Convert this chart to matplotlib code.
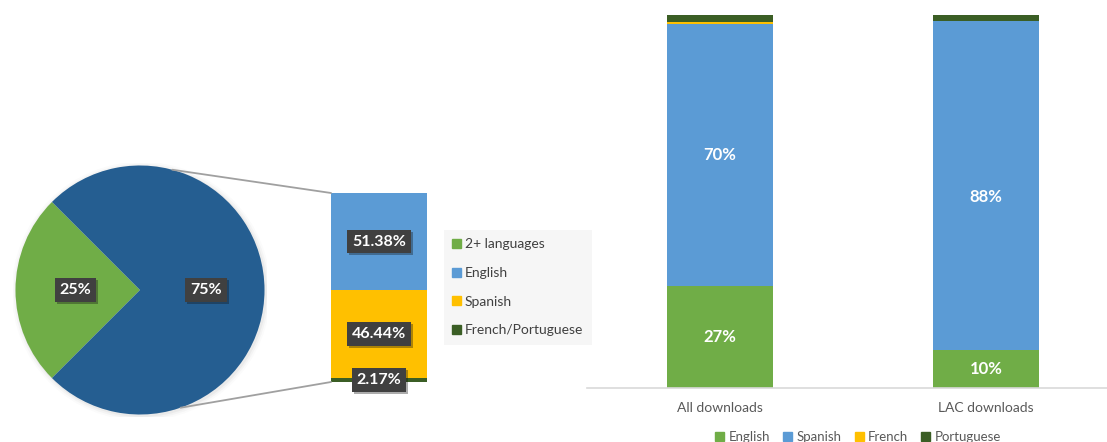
import matplotlib
matplotlib.use("Agg")
import matplotlib.pyplot as plt
from matplotlib.patches import ConnectionPatch, Patch
import matplotlib.patheffects as pe
import numpy as np

plt.rcParams['font.family'] = ['Lato', 'DejaVu Sans']

# pie: share of materials by number of languages
pie_labels = ["2+ languages", "Single language"]
pie_values = [25, 75]
pie_text = ["25%", "75%"]

# bar of pie: breakdown of single-language materials (bottom to top)
sub_labels = ["French/Portuguese", "Spanish", "English"]
sub_values = [2.17, 46.44, 51.38]

# downloads by language
categories = ["All downloads", "LAC downloads"]
dl_series = ["English", "Spanish", "French", "Portuguese"]
dl_english = [27.4, 10.2]
dl_spanish = [70.3, 88.2]
dl_french = [0.5, 0.1]
dl_portuguese = [1.8, 1.5]

C_GREEN = "#70AD47"
C_DBLUE = "#255E91"
C_BLUE = "#5B9BD5"
C_YELLOW = "#FFC000"
C_DGREEN = "#3B5E25"

W, H = 1107, 442
fig = plt.figure(figsize=(W / 100, H / 100), dpi=100)


def px_axes(x0, y0, x1, y1):
    # pixel box (top-left origin) -> figure axes
    return fig.add_axes([x0 / W, 1 - y1 / H, (x1 - x0) / W, (y1 - y0) / H])


def dark_label(ax, x, y, s, size=11.5):
    t = ax.text(x, y, s, ha="center", va="center", color="white",
                fontsize=size, fontweight="bold",
                bbox=dict(boxstyle="square,pad=0.3", fc="#404040", ec="none"),
                zorder=5)
    t.get_bbox_patch().set_path_effects(
        [pe.SimplePatchShadow(offset=(1.5, -1.5), alpha=0.35), pe.Normal()])
    return t


# ---- pie ----
ax_pie = px_axes(13, 163, 267, 417)
# soft shadow behind the pie
for r, a in [(1.04, 0.03), (1.025, 0.05), (1.01, 0.08)]:
    ax_pie.add_patch(plt.Circle((0.01, -0.01), r, color="#808080", alpha=a, lw=0))
wedges, _ = ax_pie.pie(pie_values, colors=[C_GREEN, C_DBLUE], startangle=135,
                       radius=1, wedgeprops=dict(linewidth=0))
ax_pie.set_xlim(-1.02, 1.02)
ax_pie.set_ylim(-1.02, 1.02)
ax_pie.set_aspect("equal")
ax_pie.axis("off")
dark_label(ax_pie, -0.52, 0.0, pie_text[0])
dark_label(ax_pie, 0.53, 0.0, pie_text[1])

# ---- bar of pie ----
ax_sub = px_axes(331, 193, 427, 382)
bottom = 0
sub_colors = [C_DGREEN, C_YELLOW, C_BLUE]
sub_y = []
for v, c in zip(sub_values, sub_colors):
    ax_sub.bar(0.5, v, width=1, bottom=bottom, color=c, linewidth=0)
    sub_y.append(bottom + v / 2)
    bottom += v
ax_sub.set_xlim(0, 1)
ax_sub.set_ylim(0, sum(sub_values))
ax_sub.axis("off")
for yv, v in zip(sub_y, sub_values):
    dark_label(ax_sub, 0.5, yv, f"{v:.2f}%")

for ang, yb in [(75, sum(sub_values)), (-71, 0)]:
    a = np.deg2rad(ang)
    con = ConnectionPatch(xyA=(np.cos(a), np.sin(a)), coordsA=ax_pie.transData,
                          xyB=(0, yb), coordsB=ax_sub.transData,
                          color="#A0A0A0", lw=1.3, zorder=1)
    fig.add_artist(con)

pie_handles = [Patch(color=C_GREEN), Patch(color=C_BLUE),
               Patch(color=C_YELLOW), Patch(color=C_DGREEN)]
fig.legend(pie_handles, ["2+ languages", "English", "Spanish", "French/Portuguese"],
           loc="upper left", bbox_to_anchor=(444 / W, 1 - 230 / H),
           frameon=True, fancybox=False, facecolor="#F4F4F4", edgecolor="none",
           fontsize=10, handlelength=0.6, handleheight=0.6, handletextpad=0.3,
           labelspacing=1.2, borderpad=0.6, borderaxespad=0, labelcolor="#404040")

# ---- downloads stacked bars ----
ax = px_axes(587, 15, 1107, 388)
x = np.arange(len(categories))
bw = 0.40
b = np.zeros(len(categories))
for vals, c in zip([dl_english, dl_spanish, dl_french, dl_portuguese],
                   [C_GREEN, C_BLUE, C_YELLOW, C_DGREEN]):
    ax.bar(x, vals, bw, bottom=b, color=c, linewidth=0)
    b = b + np.array(vals)
for i in range(len(categories)):
    ax.text(x[i], dl_english[i] / 2, f"{dl_english[i]:.0f}%", ha="center", va="center",
            color="white", fontsize=12, fontweight="bold")
    ax.text(x[i], dl_english[i] + dl_spanish[i] / 2 + (-3 if i else 0), f"{dl_spanish[i]:.0f}%",
            ha="center", va="center", color="white", fontsize=12, fontweight="bold")
ax.set_xlim(-0.5, 1 + 121 / 266)
ax.set_ylim(0, 100)
for s in ["top", "right", "left"]:
    ax.spines[s].set_visible(False)
ax.spines["bottom"].set_color("#D9D9D9")
ax.spines["bottom"].set_linewidth(1.2)
ax.set_yticks([])
ax.set_xticks(x)
ax.set_xticklabels(categories, fontsize=10, color="#595959")
ax.tick_params(axis="x", length=0, pad=10)

dl_handles = [Patch(color=C_GREEN), Patch(color=C_BLUE), Patch(color=C_YELLOW), Patch(color=C_DGREEN)]
fig.legend(dl_handles, dl_series, loc="center", bbox_to_anchor=(858 / W, 5 / H),
           ncol=4, frameon=False, fontsize=9.5, handlelength=0.7, handleheight=0.7,
           handletextpad=0.3, columnspacing=1.0, labelcolor="#595959")

fig.savefig("out.png", dpi=100)
